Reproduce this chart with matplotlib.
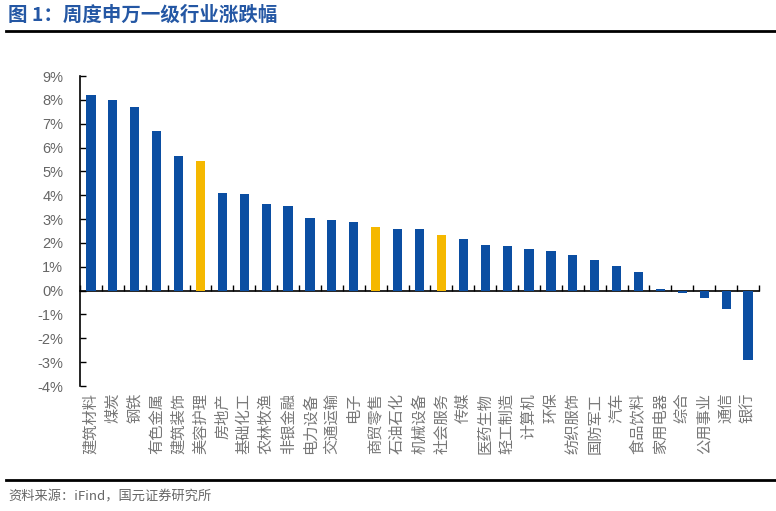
import matplotlib
matplotlib.use("Agg")
import matplotlib.pyplot as plt
from matplotlib.ticker import FuncFormatter

plt.rcParams['font.family'] = ['Noto Sans CJK SC', 'DejaVu Sans']

categories = ["建筑材料", "煤炭", "钢铁", "有色金属", "建筑装饰", "美容护理", "房地产", "基础化工",
              "农林牧渔", "非银金融", "电力设备", "交通运输", "电子", "商贸零售", "石油石化", "机械设备",
              "社会服务", "传媒", "医药生物", "轻工制造", "计算机", "环保", "纺织服饰", "国防军工",
              "汽车", "食品饮料", "家用电器", "综合", "公用事业", "通信", "银行"]
values = [8.22, 8.01, 7.71, 6.71, 5.66, 5.45, 4.11, 4.04, 3.65, 3.53, 3.06, 2.98, 2.89, 2.68, 2.60, 2.58,
          2.34, 2.18, 1.93, 1.86, 1.74, 1.68, 1.49, 1.30, 1.05, 0.77, 0.08, -0.10, -0.30, -0.78, -2.89]
highlight = ["美容护理", "商贸零售", "社会服务"]
yticks = list(range(-4, 10))

BLUE = "#0B4EA2"
GOLD = "#F5B800"
GRAY = "#666666"

fig = plt.figure(figsize=(7.76, 5.11), dpi=100)
ax = fig.add_axes([80/776, 1-386/511, (759-80)/776, (386-76)/511])

x = list(range(len(categories)))
colors = [GOLD if c in highlight else BLUE for c in categories]
ax.bar(x, values, width=0.42, color=colors, zorder=3)

ymin, ymax = yticks[0], yticks[-1]
ax.set_ylim(ymin, ymax)
ax.set_xlim(-0.5, len(categories) - 0.5)
ax.set_yticks(yticks)
ax.yaxis.set_major_formatter(FuncFormatter(lambda v, p: f"{int(v)}%"))
ax.tick_params(axis='y', direction='in', length=4, width=1, pad=12, labelcolor=GRAY,
               labelsize=10.5)
for lab in ax.get_yticklabels():
    lab.set_fontfamily(['Liberation Sans', 'DejaVu Sans'])

ax.set_xticks(x)
ax.set_xticklabels(categories, fontsize=11, color="#777777", rotation=90,
                   ha='center', va='top')
ax.tick_params(axis='x', length=0, pad=5)

for s in ['top', 'right', 'bottom']:
    ax.spines[s].set_visible(False)
ax.spines['left'].set_linewidth(1.2)

# zero line axis with boundary ticks
loc = (0 - ymin) / (ymax - ymin)
sec = ax.secondary_xaxis(loc)
sec.spines['bottom'].set_linewidth(1.2)
sec.set_xticks([i - 0.5 for i in range(len(categories) + 1)])
sec.tick_params(axis='x', direction='in', length=4, width=1, labelbottom=False)
sec.set_xticklabels([])

# title and rules
fig.text(8/776, 1-15/511, "图 1：周度申万一级行业涨跌幅", fontsize=14, fontweight='bold',
         color="#2457A4", va='center', ha='left')
fig.add_artist(plt.Line2D([6/776, 1.0], [1-31/511, 1-31/511], color='black', linewidth=2))
fig.add_artist(plt.Line2D([6/776, 1.0], [1-480/511, 1-480/511], color='black', linewidth=2))
fig.text(8/776, 1-497/511, "资料来源：iFind，国元证券研究所", fontsize=9.5, color=GRAY,
         va='center', ha='left')

fig.savefig("out.png", dpi=100)
